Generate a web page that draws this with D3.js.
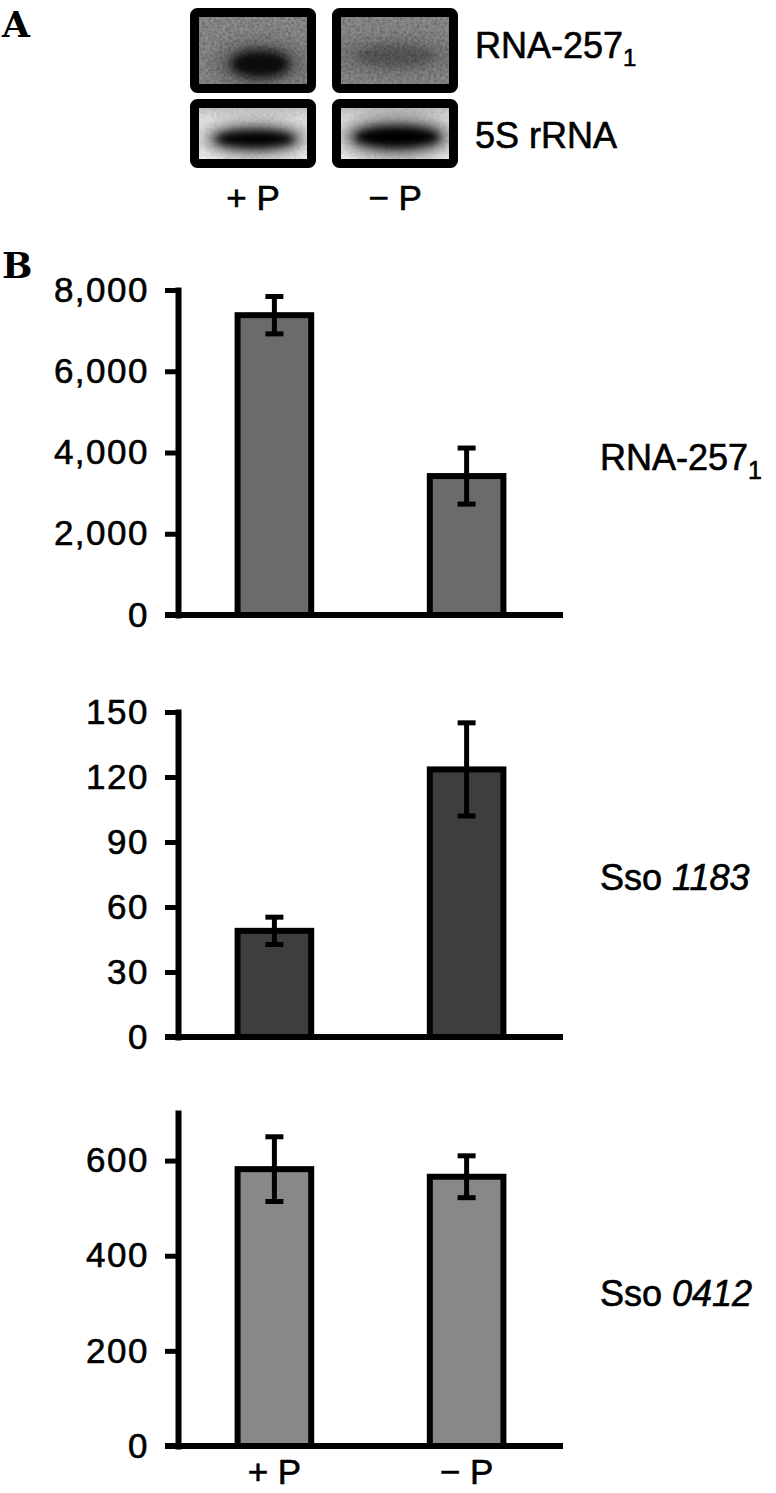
<!DOCTYPE html>
<html>
<head>
<meta charset="utf-8">
<script src="https://cdn.jsdelivr.net/npm/d3@7/dist/d3.min.js"></script>
<style>
  body { margin: 0; background: #fff; }
  text { font-family: "Liberation Sans", Arial, sans-serif; fill: #000; stroke: #000; stroke-width: 0.6px; }
  .tick text { font-size: 35px; letter-spacing: 1.5px; }
  .domain, .tick line { stroke: #000; }
</style>
</head>
<body>
<script>
// chart data
var conditions = ["+ P", "\u2212 P"];

var rna257Values = [7380, 3420];
var rna257Errors = [460, 690];
var rna257Ticks = [0, 2000, 4000, 6000, 8000];

var sso1183Values = [49, 123.5];
var sso1183Errors = [6.3, 21.5];
var sso1183Ticks = [0, 30, 60, 90, 120, 150];

var sso0412Values = [582, 566];
var sso0412Errors = [68, 44];
var sso0412Ticks = [0, 200, 400, 600];

// Step 1: set up the page
var svgWidth = 776;
var svgHeight = 1493;
var axisX = 178;
var axisRight = 563;

var svg = d3.select("body")
  .append("svg")
  .attr("width", svgWidth)
  .attr("height", svgHeight);

var defs = svg.append("defs");

// noise + blur filters for the blot panel
var noise = defs.append("filter").attr("id", "noise")
  .attr("x", 0).attr("y", 0).attr("width", "100%").attr("height", "100%");
noise.append("feTurbulence")
  .attr("type", "fractalNoise")
  .attr("baseFrequency", 0.35)
  .attr("numOctaves", 2)
  .attr("seed", 4);
noise.append("feColorMatrix")
  .attr("type", "matrix")
  .attr("values", "0 0 0 0 0  0 0 0 0 0  0 0 0 0 0  0 0 0 -1.1 0.75");

var blur = defs.append("filter").attr("id", "blur")
  .attr("x", "-50%").attr("y", "-80%").attr("width", "200%").attr("height", "260%");
blur.append("feGaussianBlur").attr("stdDeviation", 7);

var softBlur = defs.append("filter").attr("id", "softBlur")
  .attr("x", "-50%").attr("y", "-80%").attr("width", "200%").attr("height", "260%");
softBlur.append("feGaussianBlur").attr("stdDeviation", 4);

var bandGrad = defs.append("linearGradient").attr("id", "bandGrad")
  .attr("x1", 0).attr("y1", 0).attr("x2", 0).attr("y2", 1);
bandGrad.append("stop").attr("offset", "0%").attr("stop-color", "#a9a9a9");
bandGrad.append("stop").attr("offset", "30%").attr("stop-color", "#e6e6e6");
bandGrad.append("stop").attr("offset", "100%").attr("stop-color", "#f4f4f4");

// Panel labels
svg.append("text").attr("x", 2).attr("y", 37)
  .style("font-family", "'DejaVu Serif', serif")
  .style("font-weight", "bold").style("font-size", "36px").style("stroke-width", 0).text("A");
svg.append("text").attr("x", 2).attr("y", 278)
  .style("font-family", "'DejaVu Serif', serif")
  .style("font-weight", "bold").style("font-size", "36px").style("stroke-width", 0).text("B");

// Step 2: panel A, the blot
var blotCols = [253, 395];
var blotRows = [
  { y: 8, h: 85, top: true },
  { y: 99, h: 69, top: false }
];
var blotW = 126;

// blob strengths for each lane
var topBlobs = [
  { cx: 260, cy: 64, rx: 30, ry: 14, color: "#111", halo: 0.55 },
  { cx: 395, cy: 56, rx: 40, ry: 11, color: "#5a5a5a", halo: 0.35 }
];
var bottomBands = [
  { cx: 255, cy: 139, rx: 40, ry: 9 },
  { cx: 397, cy: 137, rx: 43, ry: 11 }
];

blotRows.forEach(function (row, ri) {
  blotCols.forEach(function (cx, ci) {
    var x0 = cx - blotW / 2;
    var id = "clip" + ri + ci;
    defs.append("clipPath").attr("id", id)
      .append("rect")
      .attr("x", x0 + 4).attr("y", row.y + 4)
      .attr("width", blotW - 8).attr("height", row.h - 8);

    var g = svg.append("g").attr("clip-path", "url(#" + id + ")");

    if (row.top) {
      g.append("rect")
        .attr("x", x0).attr("y", row.y).attr("width", blotW).attr("height", row.h)
        .attr("fill", "#8e8e8e");
      var b = topBlobs[ci];
      g.append("ellipse")
        .attr("cx", b.cx).attr("cy", b.cy).attr("rx", b.rx * 1.6).attr("ry", b.ry * 1.8)
        .attr("fill", "#555").attr("opacity", b.halo)
        .attr("filter", "url(#blur)");
      g.append("ellipse")
        .attr("cx", b.cx).attr("cy", b.cy).attr("rx", b.rx).attr("ry", b.ry)
        .attr("fill", b.color)
        .attr("filter", "url(#softBlur)");
    } else {
      g.append("rect")
        .attr("x", x0).attr("y", row.y).attr("width", blotW).attr("height", row.h)
        .attr("fill", "url(#bandGrad)");
      var band = bottomBands[ci];
      g.append("ellipse")
        .attr("cx", band.cx).attr("cy", band.cy).attr("rx", band.rx * 1.3).attr("ry", band.ry * 2)
        .attr("fill", "#444").attr("opacity", 0.6)
        .attr("filter", "url(#blur)");
      g.append("ellipse")
        .attr("cx", band.cx).attr("cy", band.cy).attr("rx", band.rx).attr("ry", band.ry)
        .attr("fill", "#000")
        .attr("filter", "url(#softBlur)");
    }

    g.append("rect")
      .attr("x", x0).attr("y", row.y).attr("width", blotW).attr("height", row.h)
      .attr("filter", "url(#noise)")
      .attr("opacity", row.top ? 0.45 : 0.15);

    // thick frame
    svg.append("rect")
      .attr("x", x0 + 4.5).attr("y", row.y + 4.5)
      .attr("width", blotW - 9).attr("height", row.h - 9)
      .attr("rx", 3)
      .attr("fill", "none")
      .attr("stroke", "#000")
      .attr("stroke-width", 9);
  });
});

var blotLabel = svg.append("text").attr("x", 475).attr("y", 58).style("font-size", "36px");
blotLabel.append("tspan").text("RNA-257");
blotLabel.append("tspan").attr("dy", 8).style("font-size", "24px").text("1");
svg.append("text").attr("x", 475).attr("y", 148).style("font-size", "36px").text("5S rRNA");

svg.selectAll(".laneLabel")
  .data(conditions)
  .enter()
  .append("text")
  .attr("class", "laneLabel")
  .attr("x", (d, i) => blotCols[i])
  .attr("y", 210)
  .attr("text-anchor", "middle")
  .style("font-size", "35px")
  .text(d => d);

// Step 3: panel B, three bar charts
var xBand = d3.scaleBand()
  .domain(conditions)
  .range([axisX, axisRight])
  .paddingInner(0.617)
  .paddingOuter(0.31);

function drawBarChart(opts) {
  var y = d3.scaleLinear()
    .domain(opts.domain)
    .range([opts.bottom, opts.top]);

  var g = svg.append("g");

  // y axis
  var leftAxis = d3.axisLeft(y)
    .tickValues(opts.ticks)
    .tickFormat(opts.format)
    .tickSizeInner(13)
    .tickSizeOuter(0)
    .tickPadding(16);

  var yAxis = g.append("g")
    .attr("transform", `translate(${axisX}, 0)`)
    .call(leftAxis);
  yAxis.select(".domain").attr("stroke-width", 6).attr("stroke-linecap", "square");
  yAxis.selectAll(".tick line").attr("stroke-width", 5);

  // baseline
  g.append("line")
    .attr("x1", axisX - 13)
    .attr("x2", axisRight)
    .attr("y1", y(0))
    .attr("y2", y(0))
    .attr("stroke", "#000")
    .attr("stroke-width", 6);

  var data = conditions.map((c, i) => ({ cond: c, value: opts.values[i], err: opts.errors[i] }));

  // bars
  g.selectAll(".bar")
    .data(data)
    .enter()
    .append("rect")
    .attr("class", "bar")
    .attr("x", d => xBand(d.cond))
    .attr("width", xBand.bandwidth())
    .attr("y", d => y(d.value))
    .attr("height", d => y(0) - y(d.value))
    .attr("fill", opts.color)
    .attr("stroke", "#000")
    .attr("stroke-width", 6);

  // error bars
  var capW = 9;
  var eb = g.selectAll(".err")
    .data(data)
    .enter()
    .append("g")
    .attr("class", "err")
    .attr("stroke", "#000")
    .attr("stroke-width", 5);

  eb.append("line")
    .attr("x1", d => xBand(d.cond) + xBand.bandwidth() / 2)
    .attr("x2", d => xBand(d.cond) + xBand.bandwidth() / 2)
    .attr("y1", d => y(d.value + d.err))
    .attr("y2", d => y(d.value - d.err));
  eb.append("line")
    .attr("x1", d => xBand(d.cond) + xBand.bandwidth() / 2 - capW)
    .attr("x2", d => xBand(d.cond) + xBand.bandwidth() / 2 + capW)
    .attr("y1", d => y(d.value + d.err))
    .attr("y2", d => y(d.value + d.err));
  eb.append("line")
    .attr("x1", d => xBand(d.cond) + xBand.bandwidth() / 2 - capW)
    .attr("x2", d => xBand(d.cond) + xBand.bandwidth() / 2 + capW)
    .attr("y1", d => y(d.value - d.err))
    .attr("y2", d => y(d.value - d.err));

  // gene label on the right
  var label = g.append("text")
    .attr("x", 600)
    .attr("y", opts.labelY)
    .style("font-size", "36px");
  opts.label(label);

  return y;
}

drawBarChart({
  domain: [0, 8000],
  top: 290,
  bottom: 615,
  ticks: rna257Ticks,
  format: d3.format(","),
  values: rna257Values,
  errors: rna257Errors,
  color: "#6b6b6b",
  labelY: 470,
  label: function (t) {
    t.append("tspan").text("RNA-257");
    t.append("tspan").attr("dy", 9).style("font-size", "25px").text("1");
  }
});

drawBarChart({
  domain: [0, 150],
  top: 712,
  bottom: 1037,
  ticks: sso1183Ticks,
  format: d3.format("d"),
  values: sso1183Values,
  errors: sso1183Errors,
  color: "#3e3e3e",
  labelY: 890,
  label: function (t) {
    t.append("tspan").text("Sso ");
    t.append("tspan").style("font-style", "italic").text("1183");
  }
});

drawBarChart({
  domain: [0, 700],
  top: 1113,
  bottom: 1446,
  ticks: sso0412Ticks,
  format: d3.format("d"),
  values: sso0412Values,
  errors: sso0412Errors,
  color: "#888888",
  labelY: 1306,
  label: function (t) {
    t.append("tspan").text("Sso ");
    t.append("tspan").style("font-style", "italic").text("0412");
  }
});

// x labels under the last panel
svg.selectAll(".xLabel")
  .data(conditions)
  .enter()
  .append("text")
  .attr("class", "xLabel")
  .attr("x", d => xBand(d) + xBand.bandwidth() / 2)
  .attr("y", 1484)
  .attr("text-anchor", "middle")
  .style("font-size", "35px")
  .text(d => d);
</script>
</body>
</html>
